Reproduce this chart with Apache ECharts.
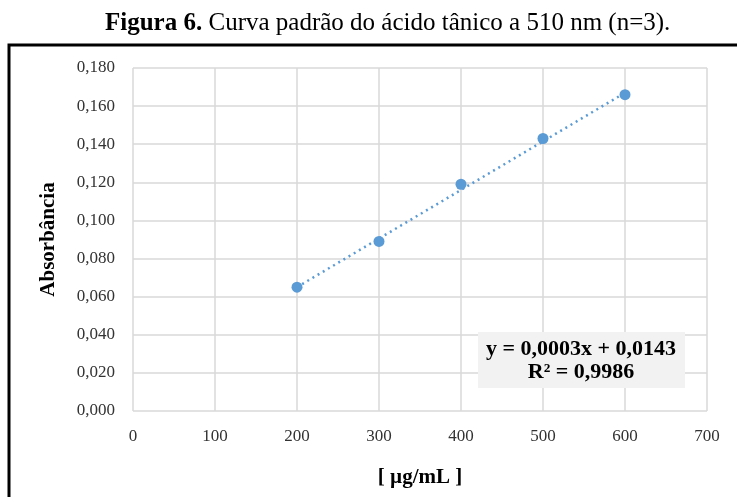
<!DOCTYPE html>
<html>
<head>
<meta charset="utf-8">
<script src="https://cdn.jsdelivr.net/npm/echarts@6/dist/echarts.min.js"></script>
<style>
  html, body { margin: 0; padding: 0; background: #fff; }
  #main { width: 737px; height: 497px; }
</style>
</head>
<body>
<div id="main"></div>
<script>
// pontos da curva padrao (concentracao em ug/mL, absorbancia)
var concentracoes = [200, 300, 400, 500, 600];
var absorbancias = [0.065, 0.089, 0.119, 0.143, 0.166];
// linha de tendencia (extremos)
var tendenciaX = [200, 600];
var tendenciaY = [0.065, 0.167];
var equacao = ['y = 0,0003x + 0,0143', 'R² = 0,9986'];

var chart = echarts.init(document.getElementById('main'));

var pontos = concentracoes.map(function (x, i) { return [x, absorbancias[i]]; });
var tendencia = tendenciaX.map(function (x, i) { return [x, tendenciaY[i]]; });

var labelFont = { fontFamily: 'Liberation Serif', fontSize: 17, color: '#333' };

option = {
    animation: false,
    title: {
        text: '{b|Figura 6.} Curva padrão do ácido tânico a 510 nm (n=3).',
        left: 100,
        top: 6,
        textStyle: {
            fontFamily: 'Liberation Serif',
            fontSize: 25,
            fontWeight: 'normal',
            color: '#000',
            rich: {
                b: { fontFamily: 'Liberation Serif', fontSize: 25, fontWeight: 'bold', color: '#000' }
            }
        }
    },
    grid: {
        left: 133,
        top: 68,
        right: 30,
        bottom: 86,
        containLabel: false
    },
    xAxis: {
        type: 'value',
        min: 0,
        max: 700,
        interval: 100,
        name: '[ µg/mL ]',
        nameLocation: 'middle',
        nameGap: 56,
        nameTextStyle: { fontFamily: 'Liberation Serif', fontSize: 21, fontWeight: 'bold', color: '#000' },
        axisLine: { show: false },
        axisTick: { show: false },
        axisLabel: Object.assign({ margin: 17 }, labelFont),
        splitLine: { show: true, lineStyle: { color: '#d9d9d9', width: 1.5 } }
    },
    yAxis: {
        type: 'value',
        min: 0,
        max: 0.18,
        interval: 0.02,
        name: 'Absorbância',
        nameLocation: 'middle',
        nameGap: 74,
        nameTextStyle: { fontFamily: 'Liberation Serif', fontSize: 21, fontWeight: 'bold', color: '#000' },
        axisLine: { show: false },
        axisTick: { show: false },
        axisLabel: Object.assign({
            margin: 18,
            formatter: function (v) { return v.toFixed(3).replace('.', ','); }
        }, labelFont),
        splitLine: { show: true, lineStyle: { color: '#d9d9d9', width: 1.5 } }
    },
    series: [
        {
            name: 'Tendência',
            type: 'line',
            data: tendencia,
            symbol: 'none',
            lineStyle: { color: '#5b9bd5', width: 2.5, type: [2, 4] },
            z: 2
        },
        {
            name: 'Absorbância',
            type: 'scatter',
            data: pontos,
            symbolSize: 11,
            itemStyle: { color: '#5b9bd5', opacity: 1 },
            z: 3
        }
    ],
    graphic: [
        {
            type: 'rect',
            shape: { x: 9, y: 45, width: 760, height: 500 },
            style: { fill: 'none', stroke: '#000', lineWidth: 3 },
            z: 10
        },
        {
            type: 'rect',
            shape: { x: 478, y: 332, width: 207, height: 56 },
            style: { fill: '#f2f2f2' },
            z: 10
        },
        {
            type: 'text',
            x: 581,
            y: 338,
            style: {
                text: equacao.join('\n'),
                align: 'center',
                fontFamily: 'Liberation Serif',
                fontSize: 22,
                fontWeight: 'bold',
                lineHeight: 23,
                fill: '#000'
            },
            z: 11
        }
    ]
};

chart.setOption(option);
</script>
</body>
</html>
